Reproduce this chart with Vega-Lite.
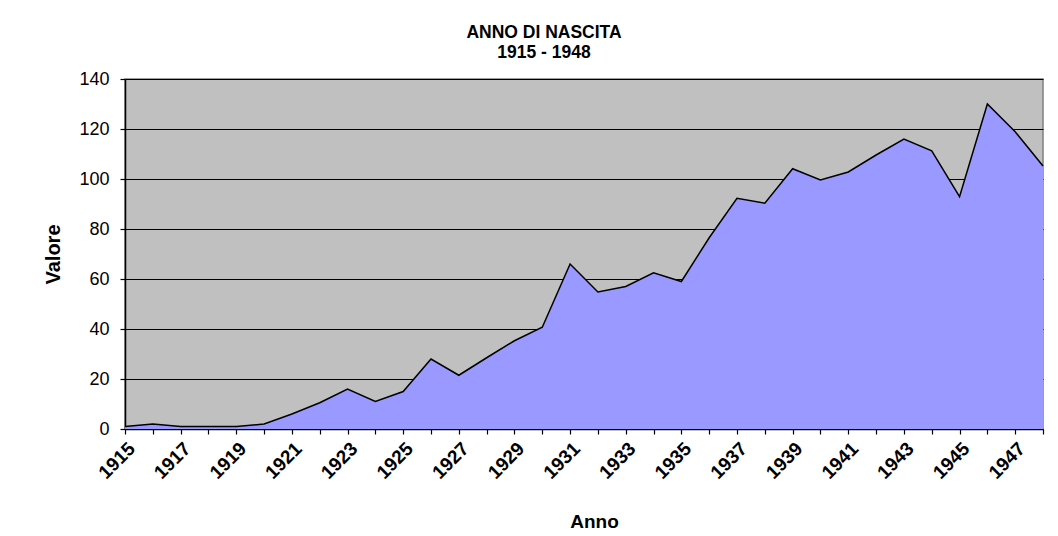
{
  "$schema": "https://vega.github.io/schema/vega-lite/v6.json",
  "width": 918,
  "height": 350,
  "autosize": {"type": "none"},
  "padding": {"left": 125, "top": 79, "right": 15, "bottom": 107},
  "background": "white",
  "config": {
    "font": "Liberation Sans",
    "view": {"fill": "#C0C0C0", "stroke": "#808080", "strokeWidth": 1.5}
  },
  "title": {
    "text": ["ANNO DI NASCITA", "1915 - 1948"],
    "font": "Liberation Sans",
    "fontSize": 17.5,
    "fontWeight": "bold",
    "color": "black",
    "lineHeight": 20,
    "anchor": "middle",
    "dx": -40,
    "offset": 9
  },
  "data": {
    "values": [
      {"anno": 1915, "valore": 1},
      {"anno": 1916, "valore": 2},
      {"anno": 1917, "valore": 1},
      {"anno": 1918, "valore": 1},
      {"anno": 1919, "valore": 1},
      {"anno": 1920, "valore": 2},
      {"anno": 1921, "valore": 6},
      {"anno": 1922, "valore": 10.5},
      {"anno": 1923, "valore": 16},
      {"anno": 1924, "valore": 11},
      {"anno": 1925, "valore": 15},
      {"anno": 1926, "valore": 28},
      {"anno": 1927, "valore": 21.5},
      {"anno": 1928, "valore": 28.5},
      {"anno": 1929, "valore": 35.3},
      {"anno": 1930, "valore": 40.7},
      {"anno": 1931, "valore": 66},
      {"anno": 1932, "valore": 54.8},
      {"anno": 1933, "valore": 57},
      {"anno": 1934, "valore": 62.5},
      {"anno": 1935, "valore": 59},
      {"anno": 1936, "valore": 76.5},
      {"anno": 1937, "valore": 92.3},
      {"anno": 1938, "valore": 90.3},
      {"anno": 1939, "valore": 104.1},
      {"anno": 1940, "valore": 99.6},
      {"anno": 1941, "valore": 102.8},
      {"anno": 1942, "valore": 109.6},
      {"anno": 1943, "valore": 116},
      {"anno": 1944, "valore": 111.3},
      {"anno": 1945, "valore": 92.9},
      {"anno": 1946, "valore": 130},
      {"anno": 1947, "valore": 118.9},
      {"anno": 1948, "valore": 105.2}
    ]
  },
  "mark": {
    "type": "area",
    "color": "#9999FF",
    "opacity": 1,
    "line": {"color": "black", "strokeWidth": 1.5}
  },
  "encoding": {
    "x": {
      "field": "anno",
      "type": "quantitative",
      "scale": {"domain": [1915, 1948], "nice": false, "zero": false},
      "axis": {
        "title": "Anno",
        "titleFont": "Liberation Sans",
        "titleFontSize": 19,
        "titleFontWeight": "bold",
        "titleColor": "black",
        "titlePadding": 30,
        "titleX": 469,
        "values": [1915,1916,1917,1918,1919,1920,1921,1922,1923,1924,1925,1926,1927,1928,1929,1930,1931,1932,1933,1934,1935,1936,1937,1938,1939,1940,1941,1942,1943,1944,1945,1946,1947,1948],
        "labelExpr": "datum.value % 2 == 1 ? format(datum.value, 'd') : ''",
        "labelAngle": -45,
        "labelAlign": "right",
        "labelBaseline": "top",
        "labelPadding": 5,
        "labelFont": "Liberation Sans",
        "labelFontSize": 19,
        "labelFontWeight": "bold",
        "labelColor": "black",
        "labelOverlap": false,
        "labelBound": false,
        "labelFlush": false,
        "grid": false,
        "domainColor": "black",
        "domainWidth": 1.5,
        "tickColor": "black",
        "tickWidth": 1.2,
        "tickSize": 5
      }
    },
    "y": {
      "field": "valore",
      "type": "quantitative",
      "scale": {"domain": [0, 140], "nice": false},
      "axis": {
        "title": "Valore",
        "titleFont": "Liberation Sans",
        "titleFontSize": 20,
        "titleFontWeight": "bold",
        "titleColor": "black",
        "titlePadding": 15,
        "values": [0, 20, 40, 60, 80, 100, 120, 140],
        "labelFont": "Liberation Sans",
        "labelFontSize": 18,
        "labelColor": "black",
        "labelPadding": 11,
        "grid": true,
        "gridColor": "black",
        "gridWidth": 1.2,
        "gridOpacity": 1,
        "domainColor": "black",
        "domainWidth": 1.5,
        "tickColor": "black",
        "tickWidth": 1.2,
        "tickSize": 5
      }
    }
  }
}
